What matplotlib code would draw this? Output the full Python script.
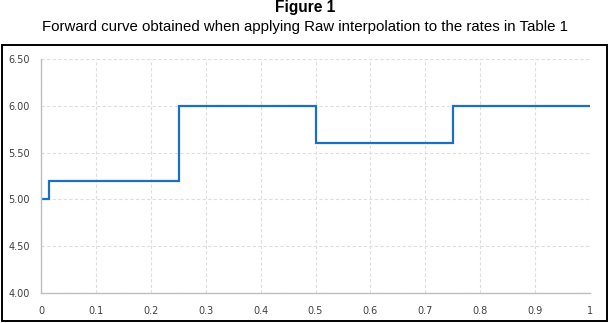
import matplotlib
matplotlib.use("Agg")
import matplotlib.pyplot as plt
from matplotlib.patches import Rectangle

# Step forward curve data (break points in years, rates in %)
breaks = [0.0, 0.0137, 0.2521, 0.5014, 0.7507, 1.0]
rates = [5.00, 5.20, 6.00, 5.60, 6.00]

x_ticks = [0, 0.1, 0.2, 0.3, 0.4, 0.5, 0.6, 0.7, 0.8, 0.9, 1]
x_labels = ["0", "0.1", "0.2", "0.3", "0.4", "0.5", "0.6", "0.7", "0.8", "0.9", "1"]
y_ticks = [4.00, 4.50, 5.00, 5.50, 6.00, 6.50]
y_labels = ["4.00", "4.50", "5.00", "5.50", "6.00", "6.50"]

title = "Figure 1"
subtitle = "Forward curve obtained when applying Raw interpolation to the rates in Table 1"

fig = plt.figure(figsize=(6.10, 3.23), dpi=100)

# outer frame
fig.patches.append(Rectangle((2/610, 2/323), 605/610, 276/323, transform=fig.transFigure,
                             fill=False, edgecolor="black", linewidth=1.4))

fig.text(0.5, 1 - 7.5/323, title, ha="center", va="center", fontsize=11.2,
         fontweight="bold", family="Liberation Sans")
fig.text(0.5, 1 - 26.5/323, subtitle, ha="center", va="center", fontsize=10.8,
         family="Liberation Sans")

ax = fig.add_axes([41/610, 1 - 293/323, 549/610, (293 - 59)/323])

xs = []
ys = []
for i, r in enumerate(rates):
    xs += [breaks[i], breaks[i + 1]]
    ys += [r, r]
ax.plot(xs, ys, color="#1b6fc8", linewidth=1.6, solid_joinstyle="miter")

ax.set_xlim(0, 1)
ax.set_ylim(4.0, 6.5)
ax.set_xticks(x_ticks)
ax.set_xticklabels(x_labels)
ax.set_yticks(y_ticks)
ax.set_yticklabels(y_labels)

ax.grid(True, color="#dedede", linestyle=(0, (3, 2)), linewidth=0.8)
ax.set_axisbelow(True)
for s in ["top", "right"]:
    ax.spines[s].set_visible(False)
for s in ["left", "bottom"]:
    ax.spines[s].set_color("#bfbfbf")
    ax.spines[s].set_linewidth(1.0)
ax.tick_params(length=0, labelsize=7, colors="#404040", pad=8)
ax.tick_params(axis="x", pad=9)

fig.savefig("out.png", dpi=100)
